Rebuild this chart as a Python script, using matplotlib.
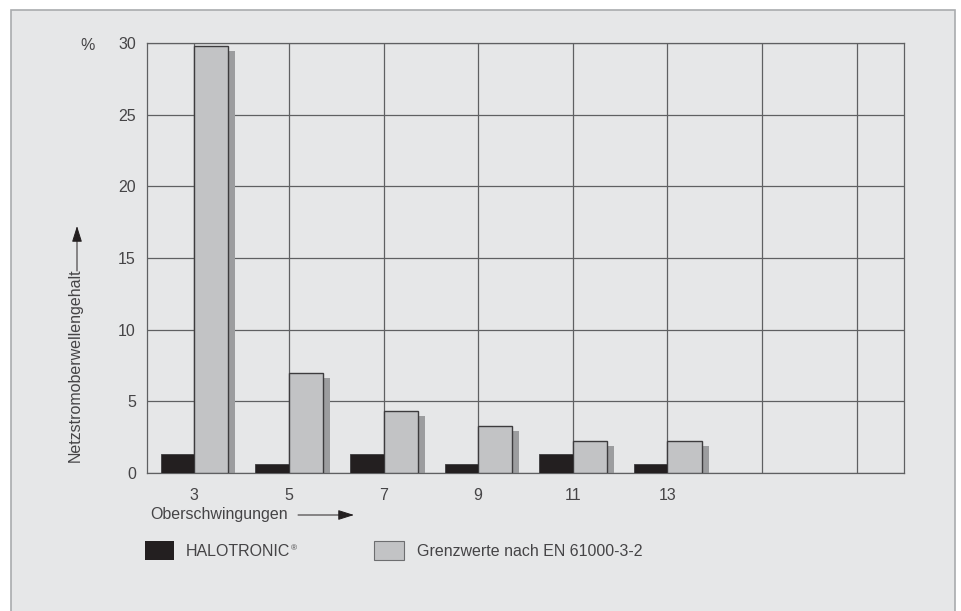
import matplotlib
matplotlib.use("Agg")
import matplotlib.pyplot as plt
from matplotlib.patches import Rectangle, FancyArrowPatch
from matplotlib.transforms import offset_copy

# harmonic order and current harmonic content in %
harmonics = [3, 5, 7, 9, 11, 13]
halotronic = [1.3, 0.6, 1.3, 0.6, 1.3, 0.6]
limits = [29.8, 7.0, 4.35, 3.3, 2.2, 2.2]
grid_x = [3, 5, 7, 9, 11, 13, 15, 17]
x_labels = ["3", "5", "7", "9", "11", "13", "", ""]
y_ticks = [0, 5, 10, 15, 20, 25, 30]

PANEL = "#e6e7e8"
LINE = "#5f6062"
TEXT = "#454446"
DARK = "#231f20"
LIGHT = "#c2c3c5"
SHADOW = "#9c9d9f"

plt.rcParams["font.family"] = ["Liberation Sans", "DejaVu Sans"]
plt.rcParams["font.size"] = 11.5

fig = plt.figure(figsize=(9.61, 6.11), dpi=100, facecolor="white")
W, H = 961.0, 611.0

def fx(px):
    return px / W

def fy(py):
    return 1 - py / H

# grey panel behind everything (bottom edge runs off the image)
fig.patches.append(Rectangle((fx(11), fy(630)), fx(955) - fx(11), fy(10) - fy(630),
                             transform=fig.transFigure, facecolor=PANEL,
                             edgecolor="#a9abae", lw=1.2, zorder=-10))

ax = fig.add_axes([fx(147), fy(473), fx(904) - fx(147), fy(43) - fy(473)])
ax.patch.set_alpha(0)
ax.set_xlim(2, 18)
ax.set_ylim(0, 30)

bw = 0.72
# drop shadow of the limit bars, shifted a few pixels right and down
shadow_tr = offset_copy(ax.transData, fig=fig, x=7, y=-5, units="dots")
ax.bar(harmonics, limits, width=bw, align="edge", color=SHADOW, lw=0,
       transform=shadow_tr, zorder=2)
ax.bar(harmonics, limits, width=bw, align="edge", color=LIGHT,
       edgecolor="#3d3c3e", lw=1.0, zorder=3)
ax.bar(harmonics, halotronic, width=-0.71, align="edge", color=DARK,
       edgecolor="#3d3c3e", lw=0.6, zorder=3)

ax.set_xticks(grid_x)
ax.set_xticklabels(x_labels)
ax.set_yticks(y_ticks)
ax.tick_params(length=0, colors=TEXT, labelsize=11.5)
ax.tick_params(axis="x", pad=11)
ax.tick_params(axis="y", pad=8)
ax.grid(True, color=LINE, lw=0.9, zorder=1)
ax.set_axisbelow(True)
for s in ax.spines.values():
    s.set_color(LINE)
    s.set_linewidth(0.9)

# axis captions with arrows
fig.text(fx(88), fy(45), "%", ha="center", va="center", color=TEXT)
fig.text(fx(150), fy(515), "Oberschwingungen", ha="left", va="center", color=TEXT)
fig.text(fx(75), fy(462), "Netzstromoberwellengehalt", rotation=90,
         ha="center", va="bottom", color=TEXT)
arrow = dict(arrowstyle="-|>,head_length=0.7,head_width=0.22", color="#231f20",
             lw=0.7, shrinkA=0, shrinkB=0, mutation_scale=14)
fig.add_artist(FancyArrowPatch((fx(298), fy(515)), (fx(354), fy(515)),
                               transform=fig.transFigure, **arrow))
fig.add_artist(FancyArrowPatch((fx(77), fy(271)), (fx(77), fy(226)),
                               transform=fig.transFigure, **arrow))

# legend
fig.patches.append(Rectangle((fx(145), fy(560)), fx(174) - fx(145), fy(541) - fy(560),
                             transform=fig.transFigure, facecolor=DARK, lw=0))
t1 = fig.text(fx(186), fy(551), "HALOTRONIC", ha="left", va="center", color=TEXT)
ax.annotate("®", xy=(1, 0.9), xycoords=t1, xytext=(0.2, 0),
            textcoords="offset points", fontsize=6, color=TEXT,
            ha="left", va="top", annotation_clip=False)
fig.patches.append(Rectangle((fx(374), fy(560)), fx(404) - fx(374), fy(541) - fy(560),
                             transform=fig.transFigure, facecolor=LIGHT,
                             edgecolor="#6d6e70", lw=0.8))
fig.text(fx(417), fy(551), "Grenzwerte nach EN 61000-3-2", ha="left", va="center",
         color=TEXT)

fig.savefig("out.png", dpi=100, facecolor="white")
